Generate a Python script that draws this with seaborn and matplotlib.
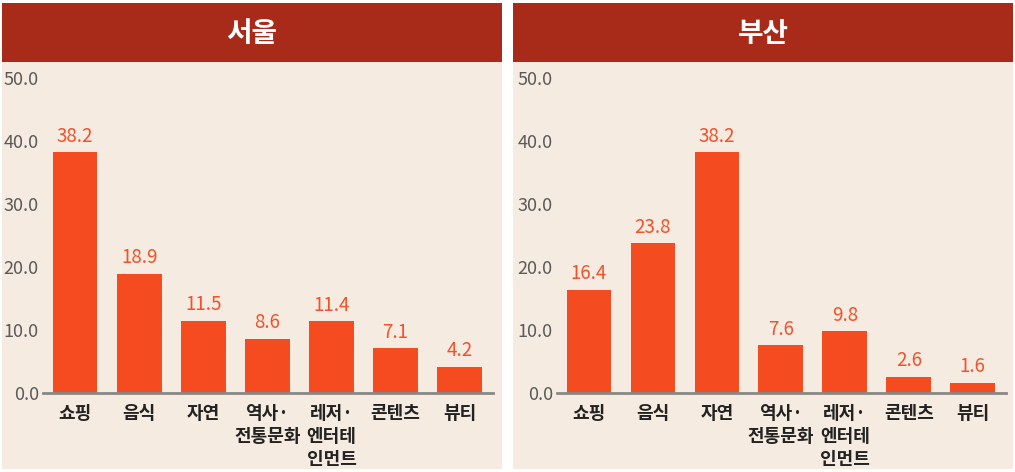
import matplotlib
matplotlib.use("Agg")
import matplotlib.pyplot as plt
import seaborn as sns
from matplotlib.patches import Rectangle

# 데이터
categories = ["쇼핑", "음식", "자연", "역사·\n전통문화", "레저·\n엔터테\n인먼트", "콘텐츠", "뷰티"]
seoul_values = [38.2, 18.9, 11.5, 8.6, 11.4, 7.1, 4.2]
busan_values = [16.4, 23.8, 38.2, 7.6, 9.8, 2.6, 1.6]
panel_titles = ["서울", "부산"]
y_ticks = [0, 10, 20, 30, 40, 50]

BAR = "#F54B20"
LABEL = "#F5502A"
BAND = "#A82A18"
BG = "#F5EBE0"

sns.set_style("white")
plt.rcParams['font.family'] = ['Noto Sans CJK KR', 'DejaVu Sans']

W, H = 1015, 472
fig = plt.figure(figsize=(W / 100, H / 100), dpi=100)
fig.patch.set_facecolor("white")


def px_rect(x0, y0, x1, y1, color):
    # 픽셀 좌표 -> figure 좌표
    fig.patches.append(Rectangle((x0 / W, 1 - y1 / H), (x1 - x0) / W, (y1 - y0) / H,
                                 transform=fig.transFigure, facecolor=color,
                                 edgecolor="none", zorder=-5))


panels = [
    {"px": (2, 502), "ax_x": (43, 493), "values": seoul_values, "title": panel_titles[0]},
    {"px": (513, 1013), "ax_x": (557, 1006), "values": busan_values, "title": panel_titles[1]},
]

for p in panels:
    x0, x1 = p["px"]
    px_rect(x0, 3, x1, 469, BG)
    px_rect(x0, 3, x1, 62, BAND)
    fig.text((x0 + x1) / 2 / W, 1 - 34 / H, p["title"], color="white",
             fontsize=20, fontweight="bold", ha="center", va="center")

    ax_left, ax_right = p["ax_x"]
    ax = fig.add_axes([ax_left / W, 1 - 393 / H, (ax_right - ax_left) / W, (393 - 78) / H])
    ax.set_facecolor("none")

    sns.barplot(x=categories, y=p["values"], ax=ax, color=BAR, width=0.7,
                saturation=1, edgecolor="none")
    ax.bar_label(ax.containers[0], fmt="%.1f", padding=4, color=LABEL,
                 fontsize=13.5, fontweight="medium")

    ax.set_xlim(-0.5, 6.52)
    ax.set_ylim(0, 50)
    ax.set_yticks(y_ticks)
    ax.set_yticklabels([f"{v:.1f}" for v in y_ticks], color="#5a5a5a", fontsize=13)
    ax.tick_params(axis="y", length=0, pad=3)
    ax.tick_params(axis="x", length=0, pad=8, labelsize=13)
    for lbl in ax.get_xticklabels():
        lbl.set_fontweight("bold")
        lbl.set_color("#222222")
        lbl.set_linespacing(1.25)

    for s in ["left", "top", "right"]:
        ax.spines[s].set_visible(False)
    ax.spines["bottom"].set_color("#888888")
    ax.spines["bottom"].set_linewidth(2)

fig.savefig("out.png", dpi=100)
